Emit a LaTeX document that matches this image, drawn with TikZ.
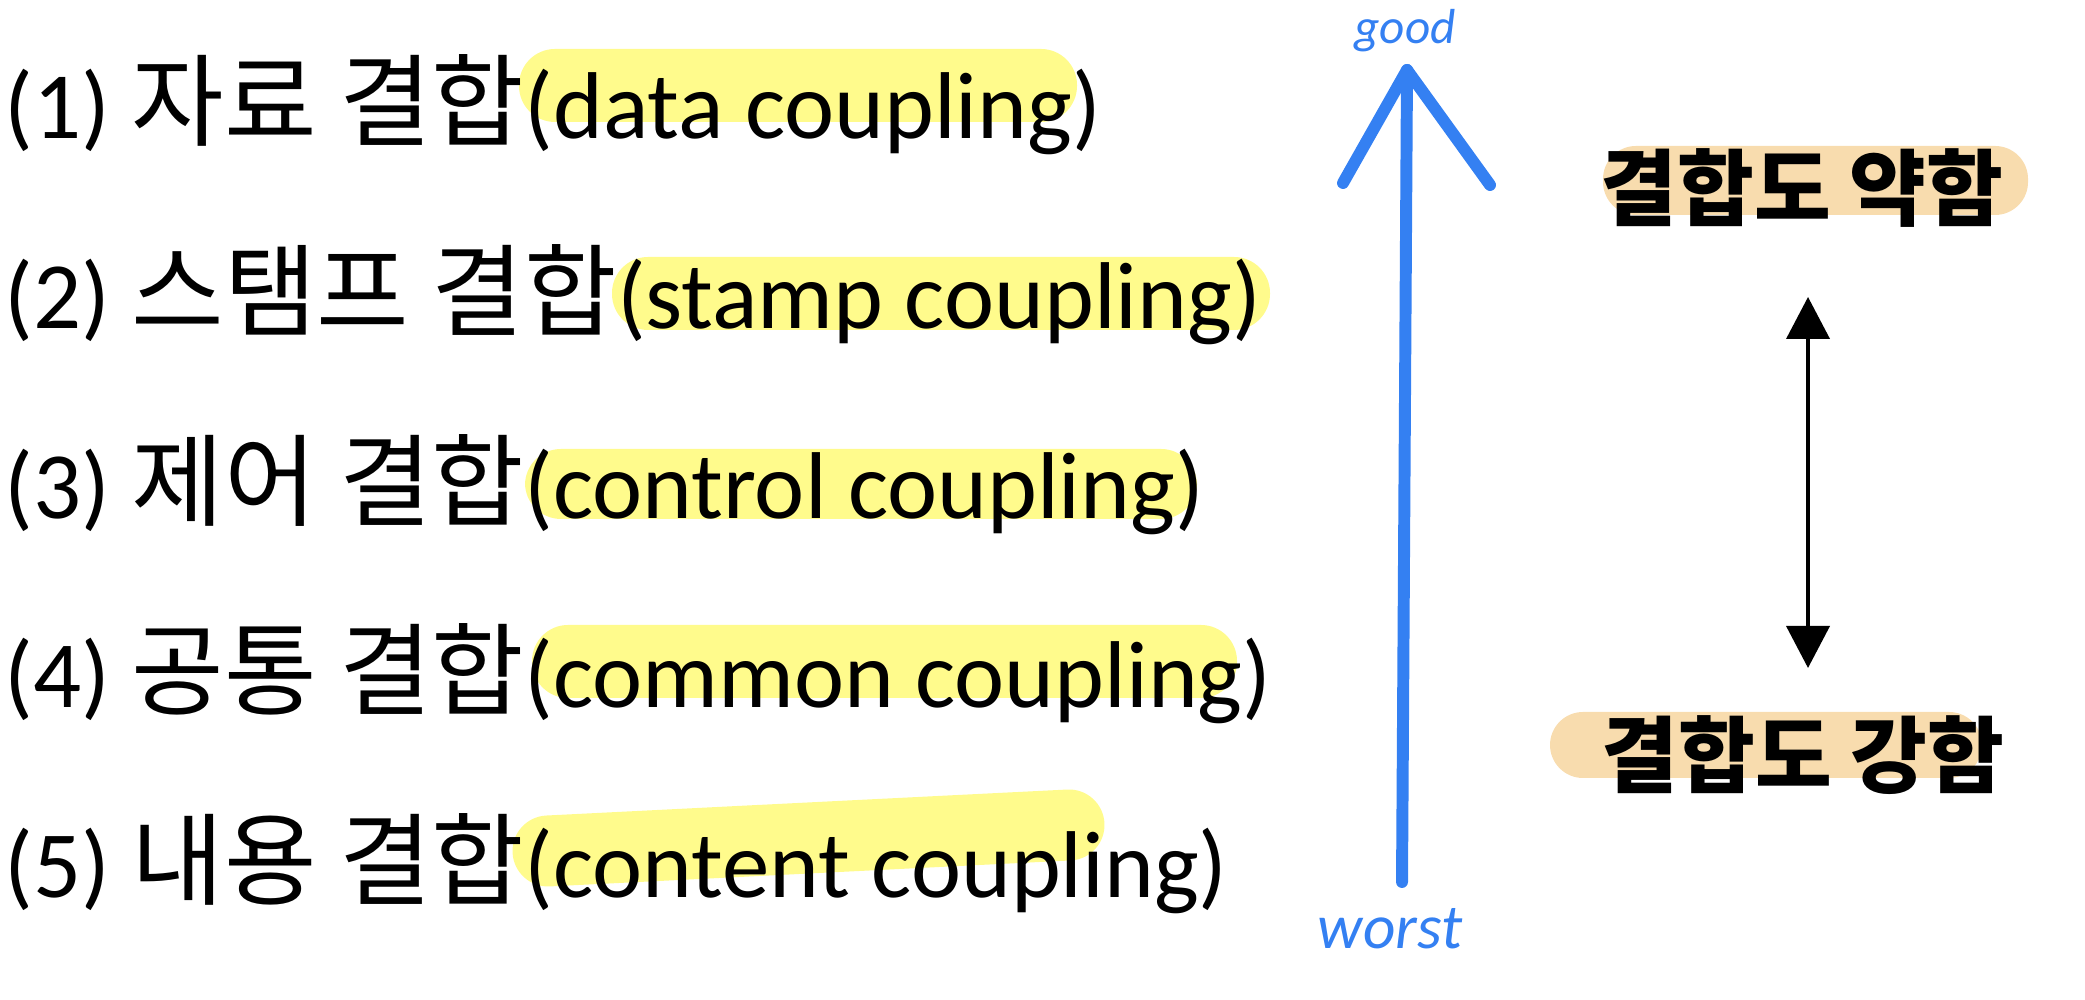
\documentclass[tikz,border=0pt]{standalone}
\usepackage{fontspec}
\setmainfont{Carlito}
\newfontfamily\kr{Noto Sans CJK KR}[Scale=1.06]
\usepackage{xcolor}
\usepackage{tikz}
\usetikzlibrary{positioning, arrows.meta}

\definecolor{hlyellow}{HTML}{FFFB8C}
\definecolor{hlpeach}{HTML}{F8DCAE}
\definecolor{penblue}{HTML}{3480F2}

\begin{document}
\begin{tikzpicture}[
  every node/.style={inner sep=0pt},
  item/.style={anchor=base west, font=\fontsize{27}{30}\selectfont},
  hl/.style={fill=hlyellow, rounded corners=0.36cm},
  peach/.style={fill=hlpeach, rounded corners=0.33cm},
  lvl/.style={font=\kr\fontsize{22.4}{26}\selectfont\bfseries},
  hand/.style={color=penblue},
  pen/.style={penblue, line width=3.4pt, line cap=round, line join=round},
  both/.style={{Triangle[width=0.43cm,length=0.42cm]}-{Triangle[width=0.43cm,length=0.42cm]}, line width=1.1pt}
]
\useasboundingbox (0,0) rectangle (20.85,10);

% highlighter strokes
\fill[hl] (5.19,8.78) rectangle (10.77,9.51);
\fill[hl] (6.12,6.70) rectangle (12.70,7.43);
\fill[hl] (5.25,4.81) rectangle (11.97,5.51);
\fill[hl] (5.32,3.02) rectangle (12.37,3.75);
\draw[hlyellow, line width=0.71cm, line cap=round] (5.48,1.49) -- (10.69,1.75);
\fill[peach] (16.03,7.85) rectangle (20.28,8.54);
\fill[peach] (15.50,2.22) rectangle (19.82,2.88);

% coupling list
\node[item] (dataC) at (0.04,8.61) {(1) {\kr 자료 결합}(data coupling)};
\node[item] (stampC) at (0.04,6.71) {(2) {\kr 스탬프 결합}(stamp coupling)};
\node[item] (ctrlC) at (0.04,4.81) {(3) {\kr 제어 결합}(control coupling)};
\node[item] (commonC) at (0.04,2.92) {(4) {\kr 공통 결합}(common coupling)};
\node[item] (contentC) at (0.04,1.02) {(5) {\kr 내용 결합}(content coupling)};

% good / worst arrow
\coordinate (worstEnd) at (14.02,1.18);
\coordinate (goodTip) at (14.07,9.30);
\coordinate (armL) at (13.43,8.17);
\coordinate (armR) at (14.90,8.15);
\draw[pen] (worstEnd) -- (goodTip);
\draw[pen] (armL) -- (goodTip) -- (armR);
\node[hand, anchor=base, font=\fontsize{14}{16}\selectfont\itshape] (goodLbl) at (14.05,9.56) {good};
\node[hand, anchor=base, font=\fontsize{18}{20}\selectfont\itshape] (worstLbl) at (13.90,0.51) {worst};

% weak / strong
\node[lvl] (weakC) at (18.02,8.12) {결합도 약함};
\node[lvl] (strongC) at (18.03,2.45) {결합도 강함};
\coordinate (wTip) at (18.08,7.03);
\coordinate (sTip) at (18.08,3.32);
\draw[both] (wTip) -- (sTip);

\end{tikzpicture}
\end{document}
